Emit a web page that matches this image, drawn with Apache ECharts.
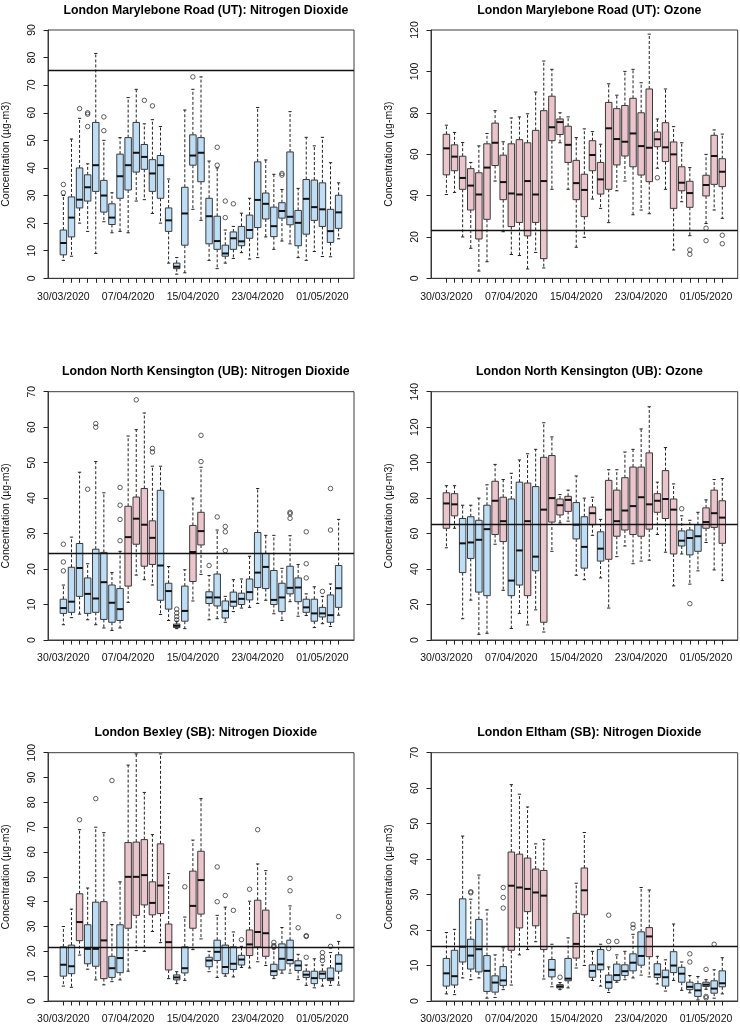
<!DOCTYPE html>
<html><head><meta charset="utf-8">
<script src="https://cdn.jsdelivr.net/npm/echarts@6/dist/echarts.min.js"></script>
<style>html,body{margin:0;padding:0;background:#fff}#c{width:740px;height:1025px}</style>
</head><body><div id="c"></div>
<script>
const dates = ['30/03/2020','31/03/2020','01/04/2020','02/04/2020','03/04/2020','04/04/2020','05/04/2020','06/04/2020',
 '07/04/2020','08/04/2020','09/04/2020','10/04/2020','11/04/2020','12/04/2020','13/04/2020','14/04/2020',
 '15/04/2020','16/04/2020','17/04/2020','18/04/2020','19/04/2020','20/04/2020','21/04/2020','22/04/2020',
 '23/04/2020','24/04/2020','25/04/2020','26/04/2020','27/04/2020','28/04/2020','29/04/2020','30/04/2020',
 '01/05/2020','02/05/2020','03/05/2020'];
const labelDays = [0, 8, 16, 24, 32];
const yName = 'Concentration (µg-m3)';

// Panel 1: London Marylebone Road (UT): Nitrogen Dioxide
const mbNO2_lo  = [6.5,8,20,17,9,20.5,16.5,17,16.5,28,28.5,23.5,20,5.5,1.5,2,25,21,6.5,3.5,5.5,7.2,9.3,7,7.5,15,10.5,13.5,12.5,7.5,6.5,9.7,7.9,7.8,14.3];
const mbNO2_q1  = [8.5,15,25.5,28,31.5,24,19.5,29,32,38.5,39.5,31.5,29,17,3.5,12,41,35,12.5,10.5,8,10.5,11.8,14.5,18.4,21.5,15.1,21.8,19.4,11.8,16,21,18.8,13,18.1];
const mbNO2_med = [12.8,22,28.5,33,41,30,22,37,41,45.5,44,38,41,21,4.2,23.5,44.5,45.5,22.5,13.5,9,14.5,13.4,17.5,28.4,27,18.9,24.4,22.3,20.1,28.8,25.8,25,17.1,23.9];
const mbNO2_q3  = [17.5,29.5,40,37.5,56.5,35.5,27,45,51,56.5,48.5,43,44.5,25.5,5.5,33,52,51,29,22.5,12,16.8,18.8,22.9,42.2,30.9,25.8,27.4,45.8,24.6,35.8,35.6,34.6,25,30.1];
const mbNO2_hi  = [30,50.5,58,41.5,81.5,50,31,51,65.5,68.5,56,57.5,55,36,7.5,61,68.5,73,42.5,40,17.5,18.8,23.6,29,61.9,42.9,37.7,32.2,60.4,32.6,51.1,48,51.1,41.9,34.6];
const mbNO2_out = [[0,31],[0,34],[2,61.5],[3,55],[3,59.5],[3,60],[5,53.5],[5,58.5],[10,64.5],[11,62.5],[16,73],[19,41],[19,47.5],[20,22],[20,28],[21,27],[27,37.4],[27,38]];

// Panel 2: London Marylebone Road (UT): Ozone
const mbO3_lo  = [40.5,41.5,20,14.5,3.5,8,47,22.5,11.5,11,4.5,12.5,5,43,65.5,43,15,19.8,38.3,33.8,26.9,42.3,47,30.7,33,31.2,53.2,43,13.7,37,20.6,null,26.5,33,29];
const mbO3_q1  = [50,52,43,33,19,28.5,54.5,38,25,27,20.5,27,9.5,66.5,69.5,56,38,29.8,52,40.7,43,54.8,59.1,53.9,49.9,46.7,63.6,56.4,33.8,42.3,34.3,null,39.8,45.4,44.3];
const mbO3_med = [62.8,58.8,48.5,44.8,40.5,53.5,65.5,46.5,41,40.5,47,40.5,47,73,75.5,64.5,46,42.7,59.6,47.8,72.5,67.3,66,70,63.9,63.1,67.2,63.3,59.9,46.2,41.2,null,45.1,59.1,51.5];
const mbO3_q3  = [69.6,64.5,59,53,51,65,75,59.5,65,67,65.5,71.5,81,88,77,73.5,57,50.3,66.5,56,85,82,83.5,87,80,91.5,70.7,75.2,65.9,53.9,46.9,null,49.8,69.1,57.8];
const mbO3_hi  = [74,70.5,65.6,56,64,70,81,66,77.5,78,79.5,90,105,101,80,78,68,72.2,70.9,64.8,94,88.5,100,101,94.5,118,77,91.5,73.3,65.5,53.5,null,59.9,71.7,69.7];
const mbO3_out = [[26,48.6],[30,13.7],[30,11.6],[32,24.2],[32,18.2],[34,20.8],[34,16.7]];

// Panel 3: London North Kensington (UB): Nitrogen Dioxide
const nkNO2_lo  = [4.3,6.3,7.3,5.7,4.3,3.4,2.7,3.4,10.6,18.3,17,15.5,7.2,5.5,3.2,3.2,11,18.5,5.7,6,5,8,9,9.2,10.3,11.2,7.4,5.5,10.8,6.7,6.9,3.5,4.6,3.8,7];
const nkNO2_q1  = [7.5,7.8,12.3,7.5,7.8,5.8,5,5.5,15.2,27,20.8,21.3,11.2,8.7,3.5,5.3,16.5,26.8,10.3,9.6,6.2,9.5,10,11.3,14.8,14.5,10,8,13,10.8,7.8,5.3,6.5,5,9.2];
const nkNO2_med = [9,10.8,20.3,13,11.7,16.3,10.5,8.7,29,34.2,32.5,28.8,21,13.8,4,8.2,24.8,30.7,12,12,8.2,10.8,11.6,13.5,19,20.6,11.3,12,14.7,14.8,9.2,7.5,7.5,7,14.6];
const nkNO2_q3  = [11.5,20.5,27.2,17.5,25.6,24.7,15.5,14.5,37.7,40.3,42.7,33.6,42.2,16,4.5,15.2,32.3,36,13.6,18.6,11,13.5,13.2,17.2,30.3,24.4,19.6,16,20.8,17.5,11.5,11.5,9.2,12.7,21];
const nkNO2_hi  = [15.5,29,47.3,21.5,50.3,41.5,19,25,57.5,59.3,64,49,49,20.7,5.3,19.8,40,48.7,18.2,31,12.3,17,17.2,23.6,42.7,29.5,29.5,20.2,29.4,21.3,13,15,12.3,15.8,34];
const nkNO2_out = [[0,19.5],[0,22],[0,27],[3,42.5],[4,60],[4,61],[7,28],[7,34],[7,38],[7,43],[9,67.7],[11,53],[11,54],[14,5.7],[14,6.6],[14,7.6],[14,8.7],[17,50.3],[17,57.7],[18,21],[19,34.7],[20,25.2],[20,30.5],[20,32],[28,34.3],[28,35.6],[28,36],[30,17.5],[30,21.5],[30,30.5],[32,13.7],[33,31],[33,42.7]];

// Panel 4: London North Kensington (UB): Ozone
const nkO3_lo  = [52,63,12,22.5,3.2,3.8,54,28,6.5,15,8.5,17,4.5,50,66,67,36.5,34,59,35,18,47,53,43,44.5,45,59.5,49.5,30.5,48.5,31.5,39,55,39.5,33.5];
const nkO3_q1  = [63,70,38,46,27,25,59.5,55.5,25,31,25,39,10,66.5,70.5,72.5,57,40.5,65,44.5,45.5,58.5,62,59.5,58.5,62.5,72,68.5,48.5,53,48,50,63,63.5,54.5];
const nkO3_med = [77,76.5,54.5,55,56.5,62.5,78.5,67,33.5,50.5,67,47,73.5,80,76,79,65,52.5,71.5,51.5,73.5,67,73,75.5,80.5,76.5,78.5,79.5,73.5,56,57.5,58.5,66.5,71.5,69];
const nkO3_q3  = [83,82.5,68.5,69.5,67.5,76,89.5,80.5,79.5,89,88.5,86.5,103,104,79.5,81,77.5,69.5,75,61,90,84.5,91.5,97.5,97.5,105.5,82.5,95.5,79.5,61.5,62,65,74.5,84.5,78.5];
const nkO3_hi  = [87,87,76,76,80,87.5,99,90.5,94,101.5,105,107.5,122.5,114.5,82,84.5,92.5,80,80.5,68,96,96,106,107.5,119,131.5,89,108.5,88,70,67.5,72,79,90.5,91];
const nkO3_out = [[29,74],[30,20.5]];

// Panel 5: London Bexley (SB): Nitrogen Dioxide
const bxNO2_lo  = [6,5.5,18.5,12.8,8.5,6.5,7.8,8.5,12,20.3,20,28,23.5,9,7,8.3,20.7,25,11.8,9.5,10,9.7,13.5,13.3,15.8,14.3,9,11.2,11.2,8.6,6.3,5.3,6,6.3,6.4];
const bxNO2_q1  = [10,11,24.3,15,14,9,9.5,11.4,29.3,34.5,38.7,34.7,35.2,12.5,8.5,11.3,29.3,35,13.8,16.3,11,12.7,14.5,18.3,21.8,18,10.3,12.5,15,12.3,9.5,7,9,8.2,12];
const bxNO2_med = [14.6,14,31.8,21,21,24.4,13.2,17.3,50,50,50.7,39.5,46.5,23.7,9.5,13.2,38.3,48.7,16.3,19.8,13.7,15,16.7,22.8,27.8,27.3,12,17,16.5,14.3,10.6,9.2,11,9,15];
const bxNO2_q3  = [21.8,22.5,43.2,30.7,39.8,40,18,30.7,63.8,64,65,48,63.3,31,10.5,21.8,52.3,60.3,17.6,24.5,22.5,21.8,18.4,28.6,40.6,36.6,14.8,23,24.5,16.2,12,12,12,13.3,18.6];
const bxNO2_hi  = [30,37,69,45.5,70,67.8,30.8,48,95,99.5,84,67,99.5,51.3,11.8,33.8,64.8,81.5,20,34.5,37.8,27.8,22,40.2,55.2,52.5,21,29.6,38.3,18.8,14.5,17,14.5,19.5,24];
const bxNO2_out = [[2,73],[4,81.5],[6,88.8],[15,46],[19,40],[19,54],[20,42.5],[21,36.5],[22,24.7],[23,45],[24,69],[26,21.7],[26,22.3],[26,23.6],[28,44.4],[28,49.4],[29,29.5],[30,17.6],[30,26],[30,26.3],[32,16.3],[32,17.7],[32,19.5],[33,22],[34,34]];

// Panel 6: London Eltham (SB): Nitrogen Dioxide
const elNO2_lo  = [2,1.8,6.5,6,6.5,0.8,1,3.2,4.5,13,14.5,16.7,6.2,4,3.2,3.7,9.3,10,5.8,4.2,2.4,5.3,6,6.5,7.3,6.8,4.8,2.8,5.8,3,2.3,0.3,3.3,0.8,2];
const elNO2_q1  = [4.2,4.5,11,9,8.2,2.7,2.5,4.4,14.3,20.6,25.2,21.2,14.5,6.8,3.7,5.7,12.1,24.3,6.7,8.8,3.6,5.8,7.2,8.5,10.1,12.5,6.6,4.2,8,5.3,3.2,1.3,4.1,2.2,4];
const elNO2_med = [7.8,7,15.3,12.8,14.6,8.5,5.2,5.8,32.5,32,31.6,30.6,29.7,8.8,4.1,6.3,16.1,31.2,8.5,10.3,5.3,7.3,8.4,10.8,12.7,18.2,7.5,6.7,10,7.7,4,3,4.6,3.5,5];
const elNO2_q3  = [12,14.3,28.8,17.4,23,12.8,7.1,9.7,42,41.4,40.3,37.2,36.8,11.7,4.6,12,24.7,37.5,10.2,14.5,7.3,10.4,10.2,13.3,19.5,20.7,10.5,8.7,13.9,9.5,5.3,4.9,5.3,5.7,8.5];
const elNO2_hi  = [19.3,20.2,46.5,28.7,35.5,25.7,13,15,61,58.3,54.7,44.3,45.5,16,5.2,17.8,33.2,47.5,14,16,9.6,13,14,18.8,32,31.3,12.6,11.6,21.7,11,7.2,6.9,6,8.8,12.2];
const elNO2_out = [[3,30.5],[3,30.8],[7,26.2],[7,29.2],[7,32],[14,6.7],[20,14.8],[20,16.8],[20,24.2],[21,16.8],[23,20.6],[23,21.6],[30,11],[30,13.3],[32,0.9],[32,1.3],[32,8.9],[33,16]];

const titles = ['London Marylebone Road (UT): Nitrogen Dioxide','London Marylebone Road (UT): Ozone',
 'London North Kensington (UB): Nitrogen Dioxide','London North Kensington (UB): Ozone',
 'London Bexley (SB): Nitrogen Dioxide','London Eltham (SB): Nitrogen Dioxide'];
const refValues = [75.4, 23.4, 24.4, 65.4, 21.7, 15.5];
const yMax = [90, 120, 70, 140, 100, 70];
const yStep = [10, 20, 10, 20, 10, 10];
const panelData = [
 [mbNO2_lo, mbNO2_q1, mbNO2_med, mbNO2_q3, mbNO2_hi, mbNO2_out],
 [mbO3_lo, mbO3_q1, mbO3_med, mbO3_q3, mbO3_hi, mbO3_out],
 [nkNO2_lo, nkNO2_q1, nkNO2_med, nkNO2_q3, nkNO2_hi, nkNO2_out],
 [nkO3_lo, nkO3_q1, nkO3_med, nkO3_q3, nkO3_hi, nkO3_out],
 [bxNO2_lo, bxNO2_q1, bxNO2_med, bxNO2_q3, bxNO2_hi, bxNO2_out],
 [elNO2_lo, elNO2_q1, elNO2_med, elNO2_q3, elNO2_hi, elNO2_out]
];

// layout (pixels)
const layout = [
 {left:47.7, top:30,    width:306.3, height:248.3, titleTop:0},
 {left:431,  top:30,    width:306.7, height:248.3, titleTop:0},
 {left:47.7, top:391.7, width:306.3, height:248.3, titleTop:361},
 {left:431,  top:391.7, width:306.7, height:248.3, titleTop:361},
 {left:47.7, top:752.7, width:306.3, height:249,   titleTop:722},
 {left:431,  top:752.7, width:306.7, height:249,   titleTop:722}
];
const BLUE = '#BCDEF7', PINK = '#ECC4CB';
const FONT = 'Liberation Sans, Arial, sans-serif';

const tickDays = dates.map((d, i) => i);

function makeRender(p) {
  return function (params, api) {
    const k = api.value(0);
    const lo = api.value(1), q1 = api.value(2), md = api.value(3), q3 = api.value(4), hi = api.value(5);
    const cx = api.coord([k, md])[0];
    const yLo = api.coord([k, lo])[1], yQ1 = api.coord([k, q1])[1], yMd = api.coord([k, md])[1];
    const yQ3 = api.coord([k, q3])[1], yHi = api.coord([k, hi])[1];
    const hw = api.size([0.8, 0])[0] / 2;
    const cap = hw * 0.5;
    const fill = md > refValues[p] ? PINK : BLUE;
    const dash = {stroke: '#222', lineWidth: 1, lineDash: [3, 2]};
    const solid = {stroke: '#222', lineWidth: 1};
    return {type: 'group', children: [
      {type: 'line', shape: {x1: cx, y1: yQ3, x2: cx, y2: yHi}, style: dash},
      {type: 'line', shape: {x1: cx, y1: yQ1, x2: cx, y2: yLo}, style: dash},
      {type: 'line', shape: {x1: cx - cap, y1: yHi, x2: cx + cap, y2: yHi}, style: solid},
      {type: 'line', shape: {x1: cx - cap, y1: yLo, x2: cx + cap, y2: yLo}, style: solid},
      {type: 'rect', shape: {x: cx - hw, y: yQ3, width: 2 * hw, height: yQ1 - yQ3}, style: {fill: fill, stroke: '#3a3a3a', lineWidth: 1}},
      {type: 'line', shape: {x1: cx - hw, y1: yMd, x2: cx + hw, y2: yMd}, style: {stroke: '#111', lineWidth: 2}}
    ]};
  };
}

const option = {
  animation: false,
  textStyle: {fontFamily: FONT},
  title: [], grid: [], xAxis: [], yAxis: [], series: []
};

panelData.forEach((pd, p) => {
  const L = layout[p];
  option.title.push({
    text: titles[p], left: L.left + L.width / 2, top: L.titleTop, textAlign: 'center',
    textStyle: {fontSize: 12.3, fontWeight: 'bold', color: '#000', fontFamily: FONT}
  });
  option.grid.push({left: L.left, top: L.top, width: L.width, height: L.height, show: true,
    borderColor: '#3a3a3a', borderWidth: 1, backgroundColor: 'transparent', containLabel: false});
  option.xAxis.push({
    type: 'value', gridIndex: p, min: -1.9, max: 35.9,
    axisLine: {show: true, onZero: false, lineStyle: {color: '#3a3a3a'}},
    splitLine: {show: false},
    axisTick: {show: true, customValues: tickDays, length: 4.5, lineStyle: {color: '#222'}},
    axisLabel: {customValues: labelDays, formatter: v => dates[v], fontSize: 10.5, color: '#111', margin: 13, fontFamily: FONT}
  });
  option.yAxis.push({
    type: 'value', gridIndex: p, min: 0, max: yMax[p], interval: yStep[p],
    axisLine: {show: true, onZero: false, lineStyle: {color: '#3a3a3a'}},
    splitLine: {show: false},
    axisTick: {show: true, length: 4.5, lineStyle: {color: '#222'}},
    axisLabel: {rotate: 90, fontSize: 10.5, color: '#111', margin: 10, fontFamily: FONT},
    name: yName, nameLocation: 'middle', nameRotate: 90, nameGap: 36,
    nameTextStyle: {fontSize: 10.5, color: '#111', fontFamily: FONT}
  });
  const rows = [];
  pd[2].forEach((m, k) => {
    if (m === null) return;
    rows.push([k, pd[0][k], pd[1][k], m, pd[3][k], pd[4][k]]);
  });
  option.series.push({
    type: 'custom', xAxisIndex: p, yAxisIndex: p, renderItem: makeRender(p),
    dimensions: ['day', 'lo', 'q1', 'med', 'q3', 'hi'],
    encode: {x: 0, y: [1, 2, 3, 4, 5]}, data: rows, silent: true, z: 2
  });
  option.series.push({
    type: 'scatter', xAxisIndex: p, yAxisIndex: p, data: pd[5], symbol: 'circle', symbolSize: 4.5,
    itemStyle: {color: 'rgba(0,0,0,0)', borderColor: '#222', borderWidth: 0.9}, silent: true, z: 3,
    markLine: {silent: true, symbol: 'none', label: {show: false},
      lineStyle: {color: '#111', width: 1.3, type: 'solid'}, data: [{yAxis: refValues[p]}]}
  });
});

const chart = echarts.init(document.getElementById('c'), null, {renderer: 'canvas'});
chart.setOption(option);
</script>
</body></html>
